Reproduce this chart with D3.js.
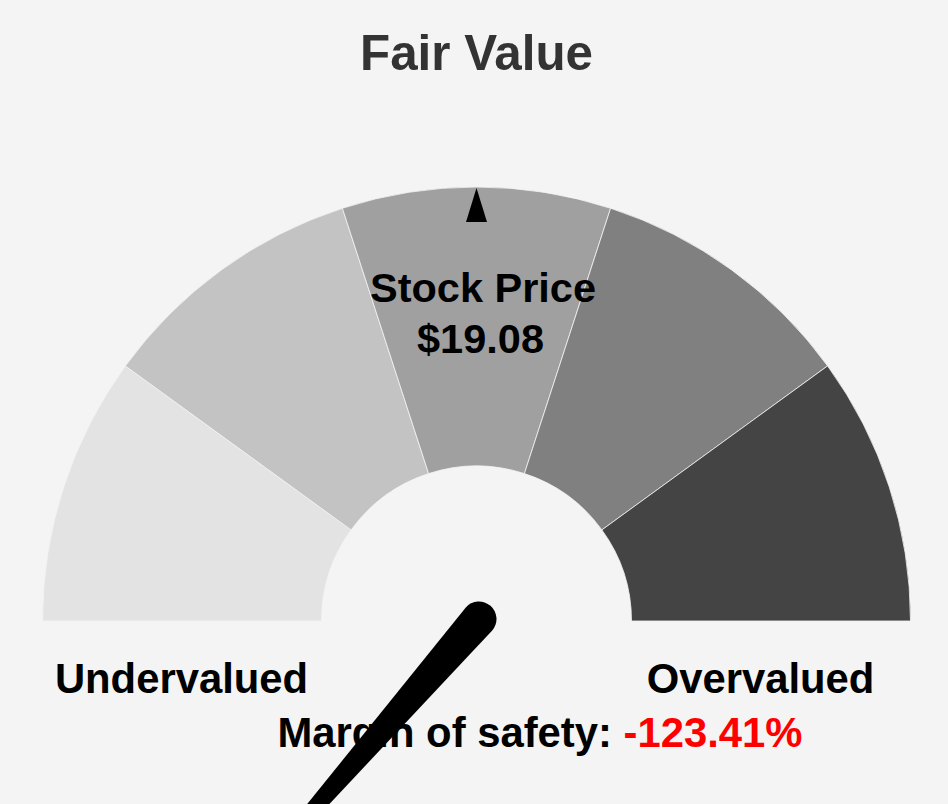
<!DOCTYPE html>
<html>
<head>
<meta charset="utf-8">
<script src="https://cdn.jsdelivr.net/npm/d3@7"></script>
<style>
  html, body { margin: 0; padding: 0; background: #f4f4f4; }
  svg { display: block; }
  text { font-family: "Liberation Sans", Arial, Helvetica, sans-serif; font-weight: bold; }
</style>
</head>
<body>
<svg id="chart" width="948" height="804"></svg>
<script>
// ---- data ----
const title = "Fair Value";
const bands = ["b1", "b2", "b3", "b4", "b5"];
const bandColors = ["#e3e3e3", "#c3c3c3", "#a0a0a0", "#808080", "#444444"];
const stockPriceLabel = "Stock Price";
const stockPrice = 19.08;
const stockPriceReading = 2.5;     // position of the price marker, in band units (0..5)
const needleReading = -1.36;       // needle position, in band units
const marginOfSafety = -123.41;    // percent
const leftLabel = "Undervalued";
const rightLabel = "Overvalued";

// ---- layout ----
const W = 948, H = 804;
const cx = 476.5, cy = 621;
const outerR = 434, innerR = 155;

const svg = d3.select("#chart");
svg.append("rect").attr("width", W).attr("height", H).attr("fill", "#f4f4f4");

// scale: band units -> angle (radians, d3 arc convention: 0 = up, clockwise)
const angle = d3.scaleLinear().domain([0, bands.length]).range([-Math.PI / 2, Math.PI / 2]);

const arc = d3.arc().innerRadius(innerR).outerRadius(outerR);
const g = svg.append("g").attr("transform", `translate(${cx},${cy})`);

g.selectAll("path.band")
  .data(bands)
  .join("path")
  .attr("class", "band")
  .attr("d", (d, i) => arc({ startAngle: angle(i), endAngle: angle(i + 1) }))
  .attr("fill", (d, i) => bandColors[i])
  .attr("stroke", "#f4f4f4")
  .attr("stroke-width", 0.8);

// price marker triangle at the outer edge
const markerA = angle(stockPriceReading) * 180 / Math.PI;
g.append("path")
  .attr("transform", `rotate(${markerA})`)
  .attr("d", `M0,${-outerR + 1} L10.5,${-outerR + 35} L-10.5,${-outerR + 35} Z`)
  .attr("fill", "#000");

// title
svg.append("text")
  .attr("x", cx).attr("y", 70)
  .attr("text-anchor", "middle")
  .attr("font-size", 49.3)
  .attr("fill", "#333333")
  .text(title);

// stock price label
svg.append("text")
  .attr("x", cx + 6.5).attr("y", 302)
  .attr("text-anchor", "middle")
  .attr("font-size", 41.5)
  .attr("fill", "#000")
  .text(stockPriceLabel);
svg.append("text")
  .attr("x", cx + 4).attr("y", 353)
  .attr("text-anchor", "middle")
  .attr("font-size", 41.5)
  .attr("fill", "#000")
  .text("$" + stockPrice.toFixed(2));

// side labels
svg.append("text")
  .attr("x", cx - 295).attr("y", 693)
  .attr("text-anchor", "middle")
  .attr("font-size", 41.8)
  .attr("fill", "#000")
  .text(leftLabel);
svg.append("text")
  .attr("x", cx + 284).attr("y", 693)
  .attr("text-anchor", "middle")
  .attr("font-size", 41.8)
  .attr("fill", "#000")
  .text(rightLabel);

// margin of safety
const mos = svg.append("text")
  .attr("x", cx - 199).attr("y", 747)
  .attr("text-anchor", "start")
  .attr("font-size", 41.8)
  .attr("fill", "#000");
mos.append("tspan").text("Margin of safety: ");
mos.append("tspan").attr("fill", "#ff0000").text(marginOfSafety.toFixed(2) + "%");

// needle
const needleA = angle(needleReading) * 180 / Math.PI;
const baseR = 17.5, needleLen = 470;
const ng = svg.append("g").attr("transform", `translate(${cx + 2.5},${cy - 2}) rotate(${needleA})`);
ng.append("path")
  .attr("d", `M${-baseR},0 L0,${-needleLen} L${baseR},0 A${baseR},${baseR} 0 0 1 ${-baseR},0 Z`)
  .attr("fill", "#000");
</script>
</body>
</html>
